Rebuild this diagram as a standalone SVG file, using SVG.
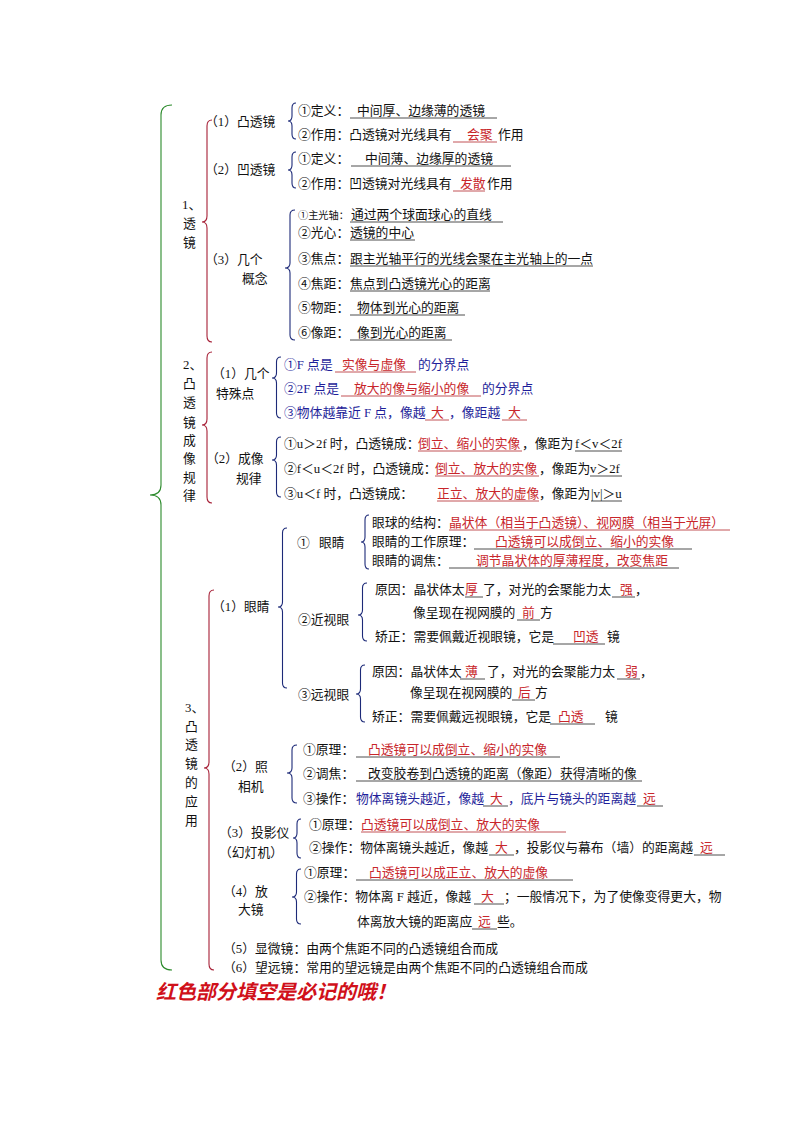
<svg xmlns="http://www.w3.org/2000/svg" width="794" height="1123" viewBox="0 0 794 1123">
<style>
text{font-family:"Liberation Serif","Noto Sans CJK SC",serif;font-size:12.8px;fill:#111}
.r{fill:#c8262b}.b{fill:#1f1f9a}
.u{stroke:#222;stroke-width:0.8}.ur{stroke:#b3262b;stroke-width:0.8}
.br{fill:none;stroke-width:1.1}
.g{stroke:#2b8a2b}.rd{stroke:#a61f36}.bl{stroke:#1d2a78}
.hw{font-size:20px;font-weight:bold;font-style:italic;fill:#d0101a}
</style>
<rect width="794" height="1123" fill="#fff"/>
<g id="connectors">
<path class="br g" d="M172 105 Q161 105 161 115 L161 485 Q161 495 150 495 Q161 495 161 505 L161 960 Q161 970 172 970"/>
<path class="br rd" d="M212 120 Q207 120 207 126 L207 216 Q207 222 202 222 Q207 222 207 228 L207 336 Q207 342 212 342"/>
<path class="br rd" d="M212 352 Q207 352 207 358 L207 419 Q207 425 202 425 Q207 425 207 431 L207 497 Q207 503 212 503"/>
<path class="br rd" d="M214 590 Q209 590 209 596 L209 762 Q209 768 204 768 Q209 768 209 774 L209 964 Q209 970 214 970"/>
<path class="br bl" d="M296 103 Q292 103 292 108 L292 116 Q292 121 288 121 Q292 121 292 126 L292 134 Q292 139 296 139"/>
<path class="br bl" d="M296 152 Q292 152 292 157 L292 165 Q292 170 288 170 Q292 170 292 175 L292 183 Q292 188 296 188"/>
<path class="br bl" d="M295 210 Q290 210 290 215 L290 263 Q290 268 285 268 Q290 268 290 273 L290 335 Q290 340 295 340"/>
<path class="br bl" d="M281 357 Q276.5 357 276.5 362 L276.5 373 Q276.5 378 272 378 Q276.5 378 276.5 383 L276.5 413 Q276.5 418 281 418"/>
<path class="br bl" d="M281 437 Q276.5 437 276.5 442 L276.5 455 Q276.5 460 272 460 Q276.5 460 276.5 465 L276.5 492 Q276.5 497 281 497"/>
<path class="br bl" d="M287 528 Q282.5 528 282.5 533 L282.5 602 Q282.5 607 278 607 Q282.5 607 282.5 612 L282.5 683 Q282.5 688 287 688"/>
<path class="br bl" d="M369 515 Q365 515 365 520 L365 537 Q365 542 361 542 Q365 542 365 547 L365 564 Q365 569 369 569"/>
<path class="br bl" d="M367 583 Q362.5 583 362.5 588 L362.5 610 Q362.5 615 358 615 Q362.5 615 362.5 620 L362.5 636 Q362.5 641 367 641"/>
<path class="br bl" d="M365 665 Q360.5 665 360.5 670 L360.5 689 Q360.5 694 356 694 Q360.5 694 360.5 699 L360.5 717 Q360.5 722 365 722"/>
<path class="br bl" d="M297 745 Q292 745 292 750 L292 768 Q292 773 287 773 Q292 773 292 778 L292 798 Q292 803 297 803"/>
<path class="br bl" d="M301 819 Q297 819 297 824 L297 833 Q297 838 293 838 Q297 838 297 843 L297 853 Q297 858 301 858"/>
<path class="br bl" d="M301 869 Q296.5 869 296.5 874 L296.5 892 Q296.5 897 292 897 Q296.5 897 296.5 902 L296.5 919 Q296.5 924 301 924"/>
</g>
<g id="s1">
<text x="182" y="209">1、</text><text x="183" y="228">透</text><text x="183" y="247">镜</text>
<text x="205" y="126">（1）凸透镜</text>
<text x="205" y="174">（2）凹透镜</text>
<text x="205" y="264">（3）几个</text><text x="242" y="283">概念</text>
<text x="298" y="115">①定义：</text><text x="357" y="115">中间厚、边缘薄的透镜</text><line class="u" x1="350" y1="118" x2="497" y2="118"/>
<text x="298" y="139">②作用：凸透镜对光线具有</text><text class="r" x="467" y="139">会聚</text><text x="498" y="139">作用</text><line class="ur" x1="453" y1="142" x2="497" y2="142"/>
<text x="298" y="163">①定义：</text><text x="365" y="163">中间薄、边缘厚的透镜</text><line class="u" x1="351" y1="166" x2="511" y2="166"/>
<text x="298" y="188">②作用：凹透镜对光线具有</text><text class="r" x="460" y="188">发散</text><text x="487" y="188">作用</text><line class="ur" x1="453" y1="191" x2="485" y2="191"/>
<text x="298" y="219" style="font-size:10.2px">①主光轴：</text><text x="351" y="219">通过两个球面球心的直线</text><line class="u" x1="350" y1="222" x2="503" y2="222"/>
<text x="298" y="237">②光心：</text><text x="350" y="237">透镜的中心</text><line class="u" x1="350" y1="240" x2="415" y2="240"/>
<text x="298" y="263">③焦点：</text><text x="350" y="263">跟主光轴平行的光线会聚在主光轴上的一点</text><line class="u" x1="350" y1="266" x2="593" y2="266"/>
<text x="298" y="288">④焦距：</text><text x="350" y="288">焦点到凸透镜光心的距离</text><line class="u" x1="350" y1="291" x2="490" y2="291"/>
<text x="298" y="312">⑤物距：</text><text x="357" y="312">物体到光心的距离</text><line class="u" x1="350" y1="315" x2="465" y2="315"/>
<text x="298" y="337">⑥像距：</text><text x="357" y="337">像到光心的距离</text><line class="u" x1="350" y1="340" x2="452" y2="340"/>
</g>
<g id="s2">
<text x="183" y="369">2、</text><text x="183" y="388">凸</text><text x="183" y="407">透</text><text x="183" y="427">镜</text><text x="183" y="445">成</text><text x="183" y="463">像</text><text x="183" y="482">规</text><text x="183" y="500">律</text>
<text x="212" y="378">（1）几个</text><text x="216" y="398">特殊点</text>
<text class="b" x="284" y="369">①F 点是</text><text class="r" x="342" y="369">实像与虚像</text><text class="b" x="418" y="369">的分界点</text><line class="ur" x1="335" y1="372" x2="416" y2="372"/>
<text class="b" x="284" y="393">②2F 点是</text><text class="r" x="354" y="393">放大的像与缩小的像</text><text class="b" x="482" y="393">的分界点</text><line class="ur" x1="341" y1="396" x2="481" y2="396"/>
<text class="b" x="284" y="417">③物体越靠近 F 点，像越</text><text class="r" x="431" y="417">大</text><text class="b" x="449" y="417">，像距越</text><text class="r" x="508" y="417">大</text><line class="ur" x1="425" y1="420" x2="449" y2="420"/><line class="ur" x1="502" y1="420" x2="527" y2="420"/>
<text x="206" y="463">（2）成像</text><text x="236" y="483">规律</text>
<text x="284" y="448">①u＞2f 时，凸透镜成：</text><text class="r" x="418" y="448">倒立、缩小的实像</text><text x="522" y="448">，像距为</text><text x="575" y="448">f＜v＜2f</text><line class="ur" x1="418" y1="451" x2="522" y2="451"/><line class="u" x1="575" y1="451" x2="622" y2="451"/>
<text x="284" y="473">②f＜u＜2f 时，凸透镜成：</text><text class="r" x="435" y="473">倒立、放大的实像</text><text x="539" y="473">，像距为</text><text x="590" y="473">v＞2f</text><line class="ur" x1="435" y1="476" x2="539" y2="476"/><line class="u" x1="590" y1="476" x2="622" y2="476"/>
<text x="284" y="498">③u＜f 时，凸透镜成：</text><text class="r" x="437" y="498">正立、放大的虚像</text><text x="539" y="498">，像距为</text><text x="591" y="498">|v|＞u</text><line class="ur" x1="437" y1="501" x2="539" y2="501"/><line class="u" x1="591" y1="501" x2="622" y2="501"/>
</g>
<g id="s3">
<text x="185" y="712">3、</text><text x="185" y="731">凸</text><text x="185" y="749">透</text><text x="185" y="768">镜</text><text x="185" y="787">的</text><text x="185" y="806">应</text><text x="185" y="825">用</text>
<text x="212" y="611">（1）眼睛</text>
<text x="297" y="547">①</text><text x="319" y="547">眼睛</text>
<text x="372" y="527">眼球的结构：</text><text class="r" x="449" y="527">晶状体（相当于凸透镜）、视网膜（相当于光屏）</text><line class="ur" x1="449" y1="530" x2="730" y2="530"/>
<text x="372" y="546">眼睛的工作原理：</text><text class="r" x="495" y="546">凸透镜可以成倒立、缩小的实像</text><line class="u" x1="474" y1="549" x2="692" y2="549"/>
<text x="372" y="565">眼睛的调焦：</text><text class="r" x="476" y="565">调节晶状体的厚薄程度，改变焦距</text><line class="u" x1="449" y1="568" x2="679" y2="568"/>
<text x="298" y="624">②近视眼</text>
<text x="375" y="594">原因：晶状体太</text><text class="r" x="465" y="594">厚</text><text x="483" y="594">了，对光的会聚能力太</text><text class="r" x="620" y="594">强</text><text x="635" y="594">，</text><line class="u" x1="465" y1="597" x2="483" y2="597"/><line class="u" x1="612" y1="597" x2="635" y2="597"/>
<text x="413" y="617">像呈现在视网膜的</text><text class="r" x="522" y="617">前</text><text x="540" y="617">方</text><line class="u" x1="517" y1="620" x2="540" y2="620"/>
<text x="375" y="641">矫正：需要佩戴近视眼镜，它是</text><text class="r" x="573" y="641">凹透</text><text x="607" y="641">镜</text><line class="u" x1="553" y1="644" x2="605" y2="644"/>
<text x="298" y="699">③远视眼</text>
<text x="372" y="676">原因：晶状体太</text><text class="r" x="465" y="676">薄</text><text x="487" y="676">了，对光的会聚能力太</text><text class="r" x="625" y="676">弱</text><text x="640" y="676">，</text><line class="u" x1="460" y1="679" x2="485" y2="679"/><line class="u" x1="617" y1="679" x2="640" y2="679"/>
<text x="410" y="697">像呈现在视网膜的</text><text class="r" x="518" y="697">后</text><text x="535" y="697">方</text><line class="u" x1="512" y1="700" x2="535" y2="700"/>
<text x="372" y="721">矫正：需要佩戴远视眼镜，它是</text><text class="r" x="558" y="721">凸透</text><text x="605" y="721">镜</text><line class="u" x1="550" y1="724" x2="595" y2="724"/>
</g>
<g id="camera">
<text x="223" y="771">（2）照</text><text x="238" y="791">相机</text>
<text x="303" y="754">①原理：</text><text class="r" x="368" y="754">凸透镜可以成倒立、缩小的实像</text><line class="u" x1="356" y1="757" x2="560" y2="757"/>
<text x="303" y="778">②调焦：</text><text x="368" y="778">改变胶卷到凸透镜的距离（像距）获得清晰的像</text><line class="u" x1="356" y1="781" x2="642" y2="781"/>
<text x="303" y="803">③操作：</text><text class="b" x="356" y="803">物体离镜头越近，像越</text><text class="r" x="490" y="803">大</text><text class="b" x="508" y="803">，底片与镜头的距离越</text><text class="r" x="643" y="803">远</text><line class="u" x1="483" y1="806" x2="508" y2="806"/><line class="u" x1="637" y1="806" x2="663" y2="806"/>
</g>
<g id="projector">
<text x="219" y="837">（3）投影仪</text><text x="219" y="857">（幻灯机）</text>
<text x="309" y="829">①原理：</text><text class="r" x="361" y="829">凸透镜可以成倒立、放大的实像</text><line class="ur" x1="361" y1="832" x2="566" y2="832"/>
<text x="309" y="852">②操作：物体离镜头越近，像越</text><text class="r" x="495" y="852">大</text><text x="514" y="852">，投影仪与幕布（墙）的距离越</text><text class="r" x="700" y="852">远</text><line class="u" x1="489" y1="855" x2="514" y2="855"/><line class="u" x1="694" y1="855" x2="725" y2="855"/>
</g>
<g id="magnifier">
<text x="223" y="896">（4）放</text><text x="238" y="914">大镜</text>
<text x="304" y="877">①原理：</text><text class="r" x="369" y="877">凸透镜可以成正立、放大的虚像</text><line class="u" x1="356" y1="880" x2="573" y2="880"/>
<text x="304" y="901">②操作：物体离 F 越近，像越</text><text class="r" x="481" y="901">大</text><text x="504" y="901">；一般情况下，为了使像变得更大，物</text><line class="u" x1="474" y1="904" x2="504" y2="904"/>
<text x="357" y="926">体离放大镜的距离应</text><text class="r" x="478" y="926">远</text><text x="497" y="926">些。</text><line class="u" x1="472" y1="929" x2="497" y2="929"/>
</g>
<g id="others">
<text x="223" y="953">（5）显微镜：由两个焦距不同的凸透镜组合而成</text>
<text x="223" y="972">（6）望远镜：常用的望远镜是由两个焦距不同的凸透镜组合而成</text>
<text class="hw" x="156" y="999">红色部分填空是必记的哦！</text>
</g>
</svg>
